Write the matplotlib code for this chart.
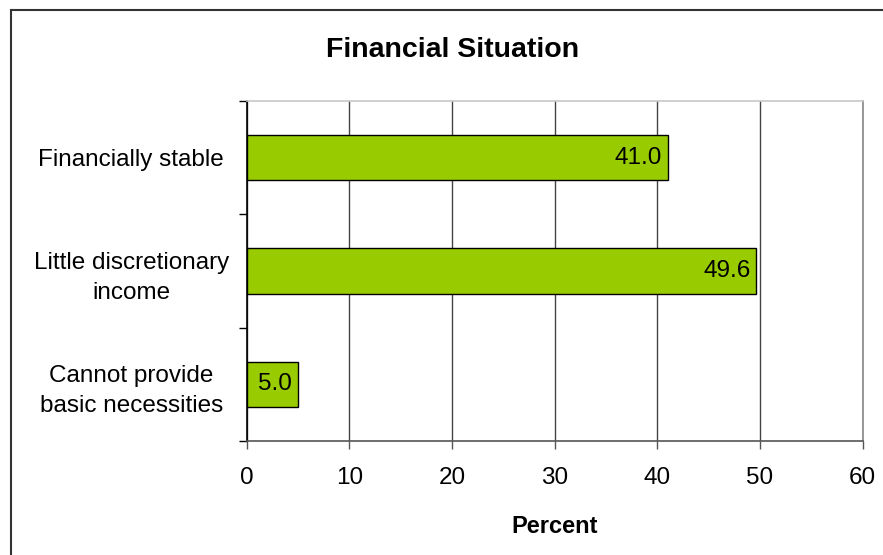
import matplotlib
matplotlib.use("Agg")
import matplotlib.pyplot as plt
from matplotlib.lines import Line2D

plt.rcParams['font.family'] = ['Liberation Sans', 'DejaVu Sans']

# Дані
categories = ['Financially stable', 'Little discretionary\nincome',
              'Cannot provide\nbasic necessities']
values = [41.0, 49.6, 5.0]
x_ticks = [0, 10, 20, 30, 40, 50, 60]

W, H = 883, 555
fig = plt.figure(figsize=(W / 100, H / 100), dpi=100)
ax = fig.add_axes([246.5 / W, 114 / H, 616.2 / W, 340 / H])

# Рамка навколо діаграми (ліва та верхня лінії)
fig.add_artist(Line2D([11 / W, 11 / W], [-0.1, 1 - 10 / H], transform=fig.transFigure,
                      color='#333333', linewidth=1.5))
fig.add_artist(Line2D([11 / W, 1.1], [1 - 10 / H, 1 - 10 / H], transform=fig.transFigure,
                      color='#333333', linewidth=1.5))

pos = list(range(len(categories)))
ax.barh(pos, values, height=0.4, color='#99CC00', edgecolor='black', linewidth=1, zorder=3)

for p, v in zip(pos, values):
    ax.annotate(f'{v:.1f}', xy=(v, p), xytext=(-4, 0), textcoords='offset points',
                ha='right', va='center', fontsize=17.5, zorder=4)

ax.set_xlim(0, 60)
ax.set_ylim(2.5, -0.5)
ax.set_xticks(x_ticks)
ax.set_xticklabels([str(t) for t in x_ticks], fontsize=17.5)
ax.tick_params(axis='x', length=6, width=1, color='#555555', pad=13)

# Поділки на межах категорій, підписи по центру
ax.set_yticks([-0.5, 0.5, 1.5, 2.5])
ax.set_yticklabels([])
ax.tick_params(axis='y', which='major', length=6, width=1, color='black')
ax.set_yticks(pos, minor=True)
ax.set_yticklabels(categories, minor=True, fontsize=17.5, ha='center', multialignment='center')
for lbl in ax.get_yticklabels(minor=True):
    lbl.set_linespacing(1.5)
ax.tick_params(axis='y', which='minor', length=0, pad=83)

ax.grid(axis='x', color='#444444', linewidth=1, zorder=0)
ax.set_axisbelow(True)
ax.spines['left'].set_color('black')
ax.spines['bottom'].set_color('#555555')
ax.spines['top'].set_color('#c8c8c8')
ax.spines['right'].set_color('#888888')
for s in ax.spines.values():
    s.set_linewidth(1.2)

fig.text(453 / W, 1 - 57 / H, 'Financial Situation', ha='center', va='baseline',
         fontsize=20.5, fontweight='bold')
fig.text(554.6 / W, 22 / H, 'Percent', ha='center', va='baseline',
         fontsize=17, fontweight='bold')

fig.savefig('out.png', dpi=100)
